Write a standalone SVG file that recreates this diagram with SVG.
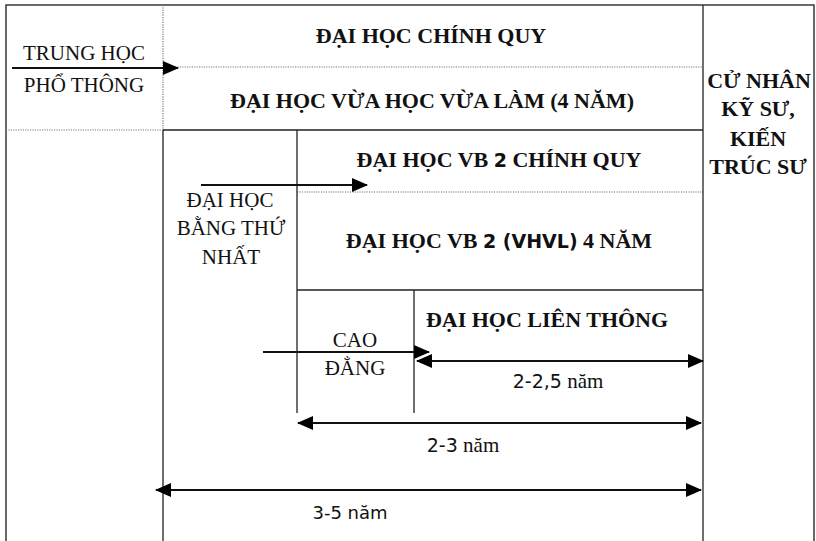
<svg xmlns="http://www.w3.org/2000/svg" width="816" height="541" viewBox="0 0 816 541">
<style>
.frame{fill:none;stroke:#3a3a3a;stroke-width:1.5}
.solid{fill:none;stroke:#222;stroke-width:1.3}
.dot{fill:none;stroke:#777;stroke-width:1.2;stroke-dasharray:1.2 1.2}
.arr{fill:none;stroke:#111;stroke-width:1.8}
.sr{font-family:"Liberation Serif","DejaVu Serif",serif;font-size:21px;fill:#111;text-anchor:middle}
.sb{font-family:"Liberation Serif","DejaVu Serif",serif;font-size:22px;font-weight:bold;fill:#111;text-anchor:middle}
.ss{font-family:"DejaVu Sans",Verdana,sans-serif;font-size:19px}
.ssb{font-family:"DejaVu Sans",Verdana,sans-serif;font-size:19px;font-weight:bold}
.sn{font-family:"DejaVu Sans",Verdana,sans-serif;font-size:18px;fill:#111;text-anchor:middle}
</style>
<defs>
<marker id="ah" viewBox="0 0 16 14" refX="15" refY="7" markerWidth="16" markerHeight="14" markerUnits="userSpaceOnUse" orient="auto-start-reverse">
<path d="M0,0 L16,7 L0,14 Z" fill="#000"/>
</marker>
</defs>
<rect width="816" height="541" fill="#fff"/>
<g id="grid">
<path class="frame" d="M6,541 V5 H814 V541"/>
<path class="dot" d="M163,5 V130 M6,130 H163 M163,67 H703 M297,192 H703"/>
<path class="solid" d="M163,130 H703 M703,5 V541 M163,130 V541 M297,130 V413 M297,290 H703 M414,290 V413"/>
</g>
<g id="connectors">
<line class="arr" x1="12" y1="68" x2="178" y2="68" marker-end="url(#ah)"/>
<line class="arr" x1="201" y1="185" x2="367" y2="185" marker-end="url(#ah)"/>
<line class="arr" x1="263" y1="352" x2="429" y2="352" marker-end="url(#ah)"/>
<line class="arr" x1="417" y1="361" x2="703" y2="361" marker-start="url(#ah)" marker-end="url(#ah)"/>
<line class="arr" x1="298" y1="423" x2="701" y2="423" marker-start="url(#ah)" marker-end="url(#ah)"/>
<line class="arr" x1="156" y1="490" x2="701" y2="490" marker-start="url(#ah)" marker-end="url(#ah)"/>
</g>
<g id="trung-hoc">
<text class="sr" x="84" y="60">TRUNG HỌC</text>
<text class="sr" x="84" y="92">PHỔ THÔNG</text>
</g>
<g id="dh-chinh-quy"><text class="sb" x="431" y="43">ĐẠI HỌC CHÍNH QUY</text></g>
<g id="dh-vhvl"><text class="sb" x="432" y="108">ĐẠI HỌC VỪA HỌC VỪA LÀM (4 NĂM)</text></g>
<g id="cu-nhan">
<text class="sb" x="759" y="88">CỬ NHÂN</text>
<text class="sb" x="758" y="116">KỸ SƯ,</text>
<text class="sb" x="758" y="146">KIẾN</text>
<text class="sb" x="758" y="174">TRÚC SƯ</text>
</g>
<g id="dh-bang-1">
<text class="sr" x="230" y="207">ĐẠI HỌC</text>
<text class="sr" x="231" y="235">BẰNG THỨ</text>
<text class="sr" x="231" y="264">NHẤT</text>
</g>
<g id="vb2-chinh-quy"><text class="sb" x="499" y="167">ĐẠI HỌC VB <tspan class="ssb">2</tspan> CHÍNH QUY</text></g>
<g id="vb2-vhvl"><text class="sb" x="499" y="248">ĐẠI HỌC VB <tspan class="ssb">2 (VHVL)</tspan> 4 NĂM</text></g>
<g id="lien-thong"><text class="sb" x="547" y="327">ĐẠI HỌC LIÊN THÔNG</text></g>
<g id="cao-dang">
<text class="sr" x="355" y="347">CAO</text>
<text class="sr" x="355" y="375">ĐẲNG</text>
</g>
<g id="labels">
<text class="sr" x="558" y="388"><tspan class="ss">2-2,5</tspan> năm</text>
<text class="sr" x="463" y="452"><tspan class="ss">2-3</tspan> năm</text>
<text class="sn" x="350" y="519">3-5 năm</text>
</g>
</svg>
